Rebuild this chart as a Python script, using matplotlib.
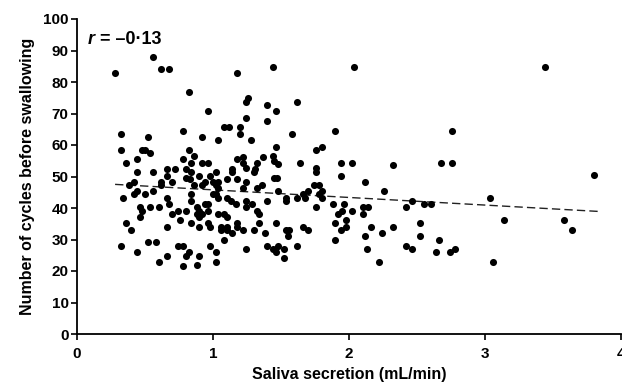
import matplotlib
matplotlib.use("Agg")
import matplotlib.pyplot as plt

# saliva secretion (mL/min) and chewing cycles
saliva = [
    0.28, 0.56, 0.62, 0.68, 0.82,
    0.32, 0.52, 0.78, 0.32, 0.48, 0.50, 0.54, 0.82,
    0.44, 0.36, 0.78, 0.66, 0.72, 0.80, 0.44, 0.56, 0.66, 0.80, 0.42, 0.62,
    0.70, 0.38, 0.62, 0.44, 0.42, 0.50, 0.56, 0.34, 0.66, 0.68, 0.46, 0.48,
    0.54, 0.60, 0.74, 0.70, 0.80, 0.46, 0.76, 0.36, 0.40, 0.66, 0.32, 0.52,
    0.58, 0.44, 0.74, 0.78, 0.66, 0.60, 0.80, 0.78,
    1.44, 1.18, 1.26, 1.24, 1.40, 0.96, 1.46, 1.24, 1.40, 1.08, 1.12, 1.20,
    1.20, 0.92, 1.04, 1.28, 1.46,
    0.86, 0.84, 0.92, 0.96, 1.18, 1.22, 1.22, 1.24, 1.37, 1.32, 1.44, 1.45,
    1.14, 1.14, 1.31, 1.30, 1.02, 0.84, 0.90, 0.98, 1.10, 1.18, 0.83, 0.94,
    1.00, 1.04, 1.24, 1.45, 0.86, 0.92, 1.02, 1.04, 1.22, 1.32, 1.36, 1.00,
    1.02, 1.04, 1.10, 1.13, 1.17, 0.84, 0.84, 0.94, 0.96, 1.24, 1.24, 1.29,
    1.32, 1.34, 1.40, 0.88, 0.90, 0.88, 0.90, 0.92, 0.96, 1.04, 1.08, 1.10,
    0.84, 0.90, 0.96, 0.98, 1.06, 1.10, 1.06, 1.10, 1.14, 1.18, 1.18, 1.22,
    1.30, 1.34, 1.38, 1.08, 0.98, 1.02, 1.24, 1.40, 1.44, 0.82, 0.90, 0.88,
    1.02,
    2.04, 1.62, 1.58, 1.90, 1.76, 1.80,
    1.48, 1.64, 1.76, 1.76, 1.94, 2.02, 1.94, 1.47, 2.12, 1.74, 1.78, 1.70,
    1.48, 1.66, 1.68, 1.62, 1.80, 1.78, 1.80, 1.54, 1.54, 1.76, 1.88, 1.96,
    1.95, 1.92, 2.02, 2.10, 2.10, 2.14, 1.90, 1.98, 1.98, 1.94, 1.46, 1.54,
    1.56, 1.55, 1.66, 1.70, 1.90, 2.12, 1.48, 1.52, 1.46, 1.62, 1.52, 2.13,
    2.76,
    2.32, 2.68, 2.76, 2.26, 2.42, 2.46, 2.55, 2.60, 2.52, 2.16, 2.32, 2.24,
    2.52, 2.66, 2.42, 2.46, 2.64, 2.74, 2.78, 2.22,
    3.44,
    3.80, 3.04, 3.14, 3.58, 3.64, 3.06,
]
cycles = [
    83.0, 88.0, 84.0, 84.0, 76.8,
    63.6, 62.6, 64.5, 58.5, 58.5, 58.5, 57.6, 58.5,
    55.6, 54.3, 55.6, 52.5, 52.5, 52.5, 51.3, 51.3, 50.3, 49.4, 48.3, 48.3,
    48.3, 47.4, 47.4, 45.4, 44.3, 44.3, 45.4, 43.2, 43.2, 41.3, 40.3, 39.2,
    40.3, 40.3, 39.2, 38.1, 39.2, 37.2, 36.1, 35.1, 33.1, 34.1, 28.0, 29.1,
    29.1, 26.1, 28.0, 28.0, 24.9, 23.0, 24.9, 21.5,
    84.9, 82.9, 74.9, 73.8, 72.7, 70.7, 70.7, 68.7, 67.6, 65.6, 65.6, 65.6,
    63.6, 62.6, 61.6, 61.6, 59.5,
    56.5, 54.4, 54.4, 54.4, 55.6, 56.2, 54.4, 52.8, 56.2, 54.4, 56.5, 55.0,
    52.3, 51.3, 52.3, 51.3, 51.3, 51.3, 50.3, 50.3, 49.3, 49.3, 49.3, 48.3,
    48.3, 48.3, 48.3, 49.4, 47.4, 47.4, 47.4, 46.4, 46.4, 46.4, 47.4, 44.3,
    44.3, 43.2, 43.2, 42.2, 41.3, 44.3, 42.2, 41.3, 41.3, 42.2, 40.3, 41.3,
    39.2, 38.1, 42.2, 40.3, 39.2, 38.1, 37.2, 38.1, 39.2, 38.1, 38.1, 37.2,
    35.1, 34.1, 35.1, 34.1, 34.1, 34.1, 33.1, 33.1, 32.1, 35.1, 34.1, 33.1,
    33.1, 35.1, 32.1, 30.0, 28.0, 26.0, 27.1, 28.0, 27.1, 26.0, 24.9, 22.0,
    22.8,
    84.9, 73.8, 63.6, 64.5, 58.5, 59.5,
    54.0, 54.4, 52.8, 51.3, 54.4, 54.4, 50.3, 49.4, 48.3, 47.4, 47.4, 45.4,
    45.4, 44.3, 43.2, 43.2, 45.4, 44.3, 43.2, 43.2, 42.2, 40.3, 41.3, 41.3,
    39.2, 38.1, 39.2, 40.3, 38.1, 40.3, 35.1, 36.1, 34.1, 33.1, 35.1, 33.1,
    33.1, 31.1, 34.1, 33.1, 30.0, 31.1, 28.0, 27.1, 26.0, 28.0, 24.1, 27.1,
    64.5,
    53.5, 54.4, 54.4, 45.4, 40.3, 42.2, 41.3, 41.3, 35.1, 34.1, 34.1, 32.1,
    31.1, 30.0, 28.0, 27.1, 26.0, 26.0, 27.1, 23.0,
    84.9,
    50.4, 43.2, 36.1, 36.1, 33.1, 23.0,
]

# regression line end points as drawn
fit_x = [0.28, 3.84]
fit_y = [47.5, 38.9]

x_ticks = [0, 1, 2, 3, 4]
y_ticks = list(range(0, 101, 10))

plt.rcParams['font.family'] = ['Liberation Sans', 'DejaVu Sans']
plt.rcParams['font.weight'] = 'bold'

fig = plt.figure(figsize=(6.22, 3.84), dpi=100)
ax = fig.add_axes([77 / 622, 1 - 334 / 384, (621 - 77) / 622, (334 - 19) / 384])

ax.scatter(saliva, cycles, s=26, color='black', linewidths=0, zorder=3)
ax.plot(fit_x, fit_y, color='#222222', linestyle=(0, (6, 3)), linewidth=1.0, zorder=2)

ax.set_xlim(0, 4)
ax.set_ylim(0, 100)
ax.set_xticks(x_ticks)
ax.set_yticks(y_ticks)
ax.tick_params(direction='out', length=4, width=1.2, labelsize=11, pad=2)
ax.tick_params(axis='x', pad=5)
for lab in ax.get_xticklabels() + ax.get_yticklabels():
    lab.set_fontweight('bold')

for side in ['top', 'right']:
    ax.spines[side].set_visible(False)
for side in ['left', 'bottom']:
    ax.spines[side].set_linewidth(1.3)

ax.set_xlabel('Saliva secretion (mL/min)', fontsize=11.5, fontweight='bold', labelpad=4.5)
ax.set_ylabel('Number of cycles before swallowing', fontsize=11.5, fontweight='bold', labelpad=6)

fig.text(88 / 622, 1 - 40 / 384, 'r', fontsize=13, fontweight='bold', style='italic', va='center')
fig.text(100 / 622, 1 - 40 / 384, '= \u20130\u00b713', fontsize=13, fontweight='bold', va='center')

fig.savefig('out.png', dpi=100)
